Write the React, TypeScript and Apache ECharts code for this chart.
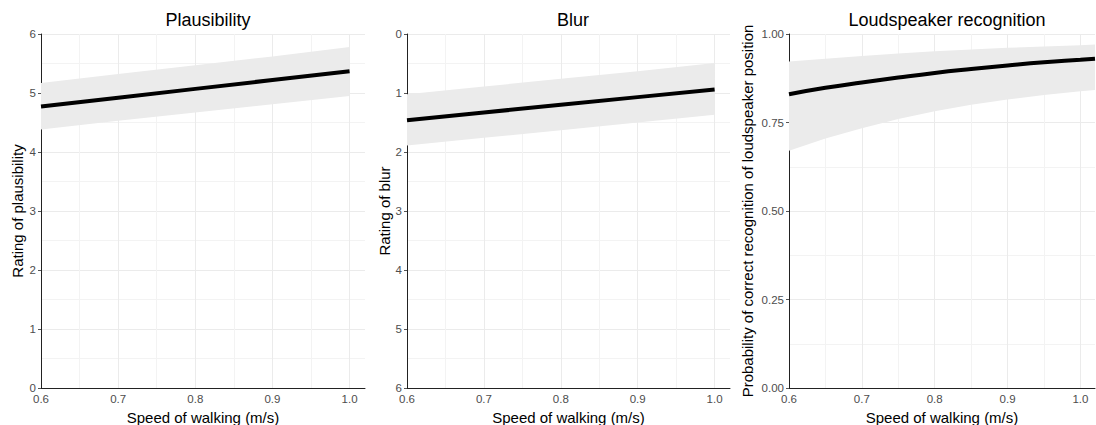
import React, { useEffect, useRef } from "react";
import * as echarts from "echarts";

// Walking speed (m/s) at which the model fits were evaluated
const speed = [0.6, 0.7, 0.8, 0.9, 1.0];
const speedLoud = [0.6, 0.65, 0.7, 0.75, 0.8, 0.85, 0.9, 0.95, 1.0, 1.02];

// Plausibility rating: fit and confidence band
const plausFit = [4.77, 4.92, 5.07, 5.22, 5.37];
const plausLow = [4.38, 4.53, 4.67, 4.81, 4.95];
const plausHigh = [5.17, 5.32, 5.47, 5.62, 5.78];

// Blur rating: fit and confidence band
const blurFit = [1.46, 1.33, 1.2, 1.07, 0.94];
const blurLow = [1.02, 0.89, 0.76, 0.63, 0.49];
const blurHigh = [1.89, 1.76, 1.63, 1.5, 1.37];

// Probability of correct loudspeaker recognition: fit and confidence band
const loudFit = [0.83, 0.848, 0.863, 0.877, 0.89, 0.901, 0.911, 0.92, 0.927, 0.93];
const loudLow = [0.67, 0.705, 0.734, 0.76, 0.782, 0.8, 0.815, 0.828, 0.838, 0.842];
const loudHigh = [0.922, 0.93, 0.938, 0.945, 0.951, 0.956, 0.961, 0.965, 0.968, 0.97];

const panelTitles = ["Plausibility", "Blur", "Loudspeaker recognition"];
const yTitles = [
  "Rating of plausibility",
  "Rating of blur",
  "Probability of correct recognition of loudspeaker position",
];
const xTitle = "Speed of walking (m/s)";

const FONT = "Liberation Sans, Arial, sans-serif";
const MAJOR = "#EBEBEB";
const MINOR = "#F3F3F3";
const BAND = "#EBEBEB";

function pairs(xs: number[], ys: number[]) {
  return xs.map((x, i) => [x, ys[i]]);
}

// Confidence ribbon: one polygon running along the upper bound and back along the lower bound
function bandSeries(idx: number, xs: number[], lo: number[], hi: number[]) {
  return {
    type: "custom",
    xAxisIndex: idx,
    yAxisIndex: idx,
    data: xs.map((x, i) => [x, lo[i], hi[i]]),
    encode: { x: 0, y: [1, 2] },
    silent: true,
    clip: true,
    z: 2,
    renderItem: (params: any, api: any) => {
      if (params.dataIndex !== 0) return null;
      const top = xs.map((x, i) => api.coord([x, hi[i]]));
      const bottom = xs.map((x, i) => api.coord([x, lo[i]])).reverse();
      return {
        type: "polygon",
        shape: { points: top.concat(bottom) },
        style: { fill: BAND, stroke: null },
      };
    },
  };
}

function fitSeries(idx: number, xs: number[], ys: number[], smooth: boolean) {
  return {
    type: "line",
    xAxisIndex: idx,
    yAxisIndex: idx,
    data: pairs(xs, ys),
    symbol: "none",
    smooth,
    lineStyle: { color: "#000", width: 4, cap: "butt" },
    z: 5,
  };
}

const xColors = [MAJOR, MINOR, MAJOR, MINOR, MAJOR, MINOR, MAJOR, MINOR, MAJOR, "rgba(0,0,0,0)"];

function xAxis(idx: number, nameGap: number) {
  return {
    type: "value",
    gridIndex: idx,
    min: 0.6,
    max: 1.02,
    interval: 0.05,
    name: xTitle,
    nameLocation: "middle",
    nameGap,
    nameTextStyle: { fontFamily: FONT, fontSize: 15, color: "#000" },
    axisLine: { show: true, onZero: false, lineStyle: { color: "#222", width: 1 } },
    axisTick: { show: false },
    axisLabel: {
      fontFamily: FONT,
      fontSize: 11.5,
      color: "#4D4D4D",
      margin: 5,
      showMaxLabel: false,
      formatter: (v: number) =>
        Math.abs(v * 10 - Math.round(v * 10)) < 1e-6 ? v.toFixed(1) : "",
    },
    splitLine: { show: true, showMaxLine: false, lineStyle: { color: xColors, width: 1 } },
  };
}

function yAxis(idx: number, opts: any) {
  return {
    type: "value",
    gridIndex: idx,
    nameLocation: "middle",
    nameRotate: 90,
    nameTextStyle: { fontFamily: FONT, fontSize: 15, color: "#000" },
    axisLine: { show: true, onZero: false, lineStyle: { color: "#222", width: 1 } },
    axisTick: { show: true, length: 3, lineStyle: { color: "#555", width: 1 } },
    axisLabel: { fontFamily: FONT, fontSize: 11.5, color: "#4D4D4D", margin: 5 },
    splitLine: { show: true, lineStyle: { color: MAJOR, width: 1 } },
    minorTick: { show: false, splitNumber: 2 },
    minorSplitLine: { show: true, lineStyle: { color: MINOR, width: 1 } },
    ...opts,
  };
}

export default function App() {
  const ref = useRef<HTMLDivElement>(null);

  useEffect(() => {
    if (!ref.current) return;
    const chart = echarts.init(ref.current, undefined, { renderer: "svg" });

    const grids = [
      { left: 41, right: 731, top: 34, bottom: 37 },
      { left: 407, right: 366, top: 34, bottom: 37 },
      { left: 789, right: 1, top: 34, bottom: 37 },
    ].map((g) => ({ ...g, containLabel: false, outerBoundsMode: "none" }));
    const titleCenters = [203, 568, 942];

    chart.setOption({
      animation: false,
      backgroundColor: "#fff",
      title: panelTitles.map((t, i) => ({
        text: t,
        left: titleCenters[i],
        top: 6,
        textAlign: "center",
        textStyle: { fontFamily: FONT, fontSize: 18, fontWeight: "normal", color: "#000" },
      })),
      grid: grids,
      xAxis: [xAxis(0, 12), xAxis(1, 12), xAxis(2, 12)],
      yAxis: [
        yAxis(0, { min: 0, max: 6, interval: 1, name: yTitles[0], nameGap: 16 }),
        yAxis(1, { min: 0, max: 6, interval: 1, inverse: true, name: yTitles[1], nameGap: 15 }),
        yAxis(2, {
          min: 0,
          max: 1,
          interval: 0.25,
          name: yTitles[2],
          nameGap: 34,
          axisLabel: {
            fontFamily: FONT,
            fontSize: 11.5,
            color: "#4D4D4D",
            margin: 5,
            formatter: (v: number) => v.toFixed(2),
          },
        }),
      ],
      series: [
        bandSeries(0, speed, plausLow, plausHigh),
        fitSeries(0, speed, plausFit, false),
        bandSeries(1, speed, blurLow, blurHigh),
        fitSeries(1, speed, blurFit, false),
        bandSeries(2, speedLoud, loudLow, loudHigh),
        fitSeries(2, speedLoud, loudFit, true),
      ],
    });

    return () => chart.dispose();
  }, []);

  return (
    <div
      ref={ref}
      style={{ position: "fixed", left: 0, top: 0, width: 1096, height: 425, background: "#fff" }}
    />
  );
}
